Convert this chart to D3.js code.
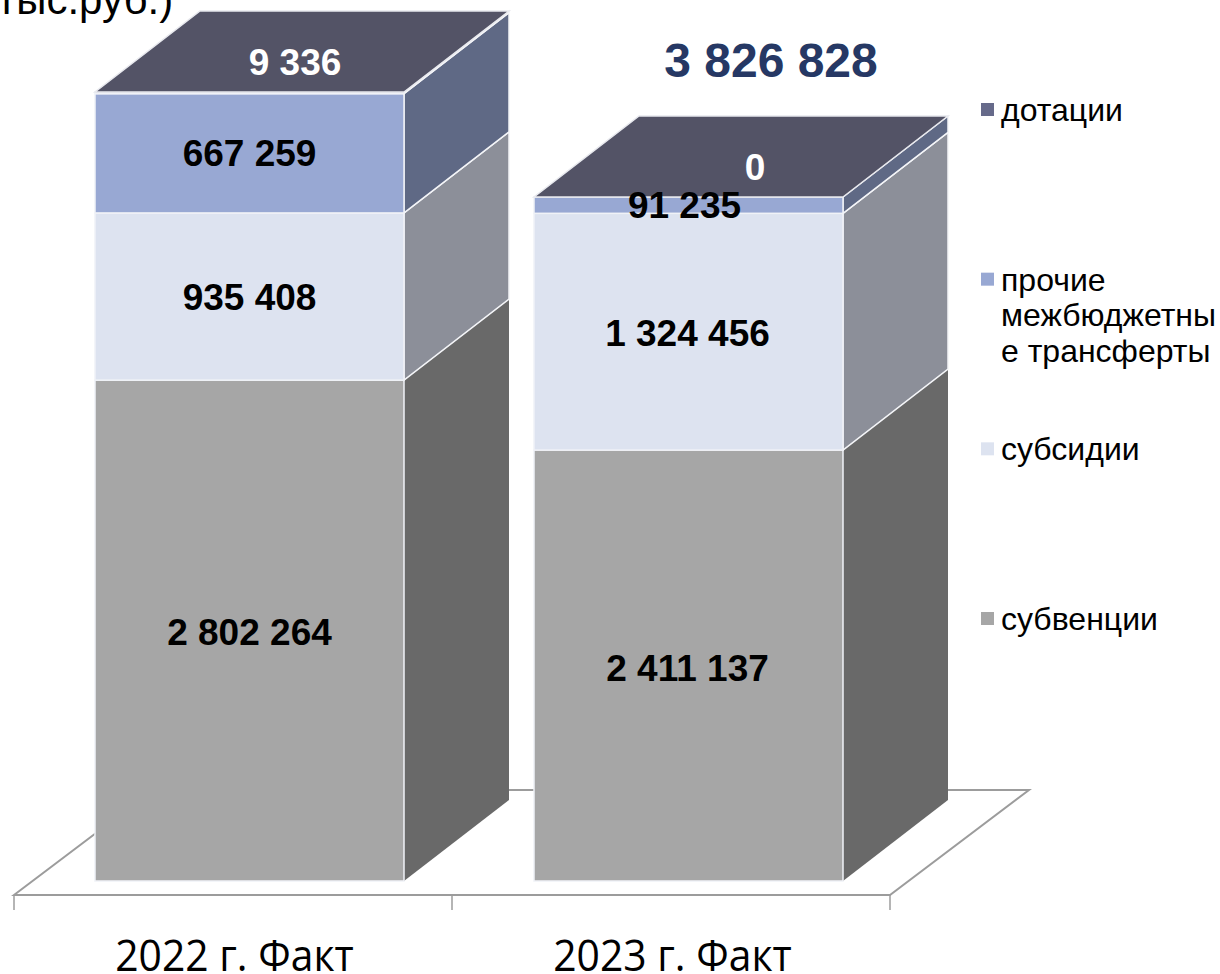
<!DOCTYPE html>
<html>
<head>
<meta charset="utf-8">
<script src="https://cdn.jsdelivr.net/npm/d3@7"></script>
<style>
html,body{margin:0;padding:0;background:#fff;overflow:hidden}
svg{display:block}
text{font-family:"Liberation Sans",sans-serif}
.val{font-weight:bold;font-size:37px;text-anchor:middle}
.leg{font-size:32px}
.cat{font-family:"Open Sans",sans-serif;font-size:43px;text-anchor:middle}
</style>
</head>
<body>
<div id="chart"></div>
<script>
var categories=["2022 г. Факт","2023 г. Факт"];
var subvencii=[2802264,2411137];
var subsidii=[935408,1324456];
var prochie=[667259,91235];
var dotacii=[9336,0];
var totals=[null,3826828];
var seriesKeys=["субвенции","субсидии","прочие","дотации"];
var frontColors=["#a6a6a6","#dde3f0","#98a8d3","#666a8a"];
var sideColors=["#696969","#8c8f99","#5f6985","#5f6985"];
var topColor="#535366";
var legendNames=[["дотации"],["прочие","межбюджетны","е трансферты"],["субсидии"],["субвенции"]];
var legendColors=["#666a8a","#98a8d3","#dde3f0","#a6a6a6"];

var width=1220,height=974;
var depthX=105,depthY=81; // 3d offset of the bars
var floorDepthX=139,floorDepthY=105;

var svg=d3.select("#chart").append("svg").attr("width",width).attr("height",height);

var x=d3.scaleBand().domain(categories).range([14,890]);
var barOffset=81,barWidth=309;
var y=d3.scaleLinear().domain([0,4414267]).range([881,92]);
var legendY=d3.scalePoint().domain(d3.range(4)).range([111,620]);

var rows=categories.map(function(c,i){
  return {cat:c,"субвенции":subvencii[i],"субсидии":subsidii[i],"прочие":prochie[i],"дотации":dotacii[i]};
});
var stacked=d3.stack().keys(seriesKeys)(rows);

// floor
var floorY=895;
svg.append("path")
  .attr("d","M"+x.range()[0]+","+floorY+"L"+(x.range()[0]+floorDepthX)+","+(floorY-floorDepthY)+
    "L"+(x.range()[1]+floorDepthX)+","+(floorY-floorDepthY)+"L"+x.range()[1]+","+floorY+"Z")
  .attr("fill","none").attr("stroke","#9c9c9c").attr("stroke-width",2);

// ticks
svg.selectAll(".tick").data([x.range()[0],x(categories[1]),x.range()[1]]).enter().append("line")
  .attr("x1",function(d){return d;}).attr("x2",function(d){return d;})
  .attr("y1",floorY).attr("y2",floorY+15)
  .attr("stroke","#9c9c9c").attr("stroke-width",1.5);

function poly(pts){return pts.map(function(p){return p.join(",");}).join(" ");}

categories.forEach(function(c,i){
  var x0=x(c)+barOffset+i,x1=x0+barWidth;
  var g=svg.append("g");
  stacked.forEach(function(s,k){
    var yb=y(s[i][0]),yt=y(s[i][1]);
    if(yb-yt<=0) return;
    // side
    g.append("polygon")
      .attr("points",poly([[x1,yb],[x1+depthX,yb-depthY],[x1+depthX,yt-depthY],[x1,yt]]))
      .attr("fill",sideColors[k]).attr("stroke","#f4f5f8").attr("stroke-width",k==0?0:1.5);
    // front
    g.append("rect").attr("x",x0).attr("y",yt).attr("width",barWidth).attr("height",yb-yt)
      .attr("fill",frontColors[k]).attr("stroke","#f0f2f7").attr("stroke-width",1.5);
  });
  // top face
  var yTop=y(d3.sum(stacked,function(s){return s[i][1]-s[i][0];}));
  g.append("polygon")
    .attr("points",poly([[x0,yTop],[x1,yTop],[x1+depthX,yTop-depthY],[x0+depthX,yTop-depthY]]))
    .attr("fill",topColor).attr("stroke","#e8e9ee").attr("stroke-width",1.5);
});

// value labels
var fmt=function(v){return d3.format(",")(v).replace(/,/g," ");};
stacked.forEach(function(s,k){
  categories.forEach(function(c,i){
    var cx=x(c)+barOffset+barWidth/2;
    var lx=cx,ly=y((s[i][0]+s[i][1])/2)+1;
    if(k==3){
      lx=cx+depthX/2+(i==0?-7:15);
      ly=y(s[i][1])-depthY/2+11;
    }
    if(k==2&&i==0) ly-=1;
    if(k==2&&i==1){lx=cx-3;ly-=1;}
    if(k==0&&i==1) ly+=2;
    svg.append("text").attr("class","val")
      .attr("x",lx).attr("y",ly).attr("dy","0.35em")
      .attr("fill",k==3?"#fff":"#000").text(fmt(s[i].data[seriesKeys[k]]));
  });
});

// total above 2023
totals.forEach(function(t,i){
  if(t==null) return;
  svg.append("text").attr("x",771).attr("y",60).attr("dy","0.35em")
    .attr("text-anchor","middle").attr("font-size",48).attr("font-weight","bold")
    .attr("fill","#263864").text(fmt(t));
});

// category labels, the reference text is a bit squeezed
svg.selectAll(".cat").data(categories).enter().append("text").attr("class","cat")
  .attr("transform",function(d){return "translate("+(x(d)+x.bandwidth()/2+1.5)+",971) scale(0.95,1)";})
  .text(function(d){return d;});

// legend
legendNames.forEach(function(lines,i){
  var ly=legendY(i);
  svg.append("rect").attr("x",981).attr("y",ly-8).attr("width",13).attr("height",13)
    .attr("fill",legendColors[i]);
  var t=svg.append("text").attr("class","leg").attr("x",1001).attr("y",ly+10);
  lines.forEach(function(l,j){
    t.append("tspan").attr("x",1001).attr("dy",j==0?0:35.5).text(l);
  });
});

// clipped chart title piece
svg.append("text").attr("x",-3).attr("y",14)
  .attr("font-family","'Open Sans',sans-serif").attr("font-size",42).attr("font-weight",300)
  .attr("fill","#000").text("тыс.руб.)");
</script>
</body>
</html>
